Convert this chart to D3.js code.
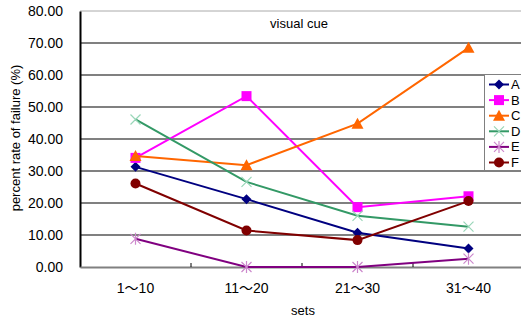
<!DOCTYPE html>
<html>
<head>
<meta charset="utf-8">
<script src="https://cdn.jsdelivr.net/npm/d3@7"></script>
<style>
  body { margin: 0; background: #fff; }
  svg text { font-family: "Liberation Sans", Arial, "Noto Sans CJK JP", sans-serif; fill: #000; }
</style>
</head>
<body>
<svg id="chart" width="521" height="320"></svg>
<script>
// categories and series
var sets = ["1～10", "11～20", "21～30", "31～40"];
var seriesNames = ["A", "B", "C", "D", "E", "F"];
var valuesA = [31.3, 21.2, 10.7, 5.8];
var valuesB = [34.1, 53.4, 18.7, 22.1];
var valuesC = [34.7, 31.8, 44.8, 68.5];
var valuesD = [46.1, 26.6, 16.0, 12.6];
var valuesE = [8.8, 0.0, 0.0, 2.6];
var valuesF = [26.1, 11.4, 8.4, 20.6];
var yTicks = [0, 10, 20, 30, 40, 50, 60, 70, 80];

var series = [
  { name: seriesNames[0], values: valuesA, line: "#000080", fill: "#000080", shape: "diamond" },
  { name: seriesNames[1], values: valuesB, line: "#ff00ff", fill: "#ff00ff", shape: "square" },
  { name: seriesNames[2], values: valuesC, line: "#ff6600", fill: "#ff6600", shape: "triangle" },
  { name: seriesNames[3], values: valuesD, line: "#339966", fill: "#99d6b8", shape: "cross" },
  { name: seriesNames[4], values: valuesE, line: "#800080", fill: "#cc88cc", shape: "star" },
  { name: seriesNames[5], values: valuesF, line: "#800000", fill: "#800000", shape: "circle" }
];

var svg = d3.select("#chart");
// plot edges (the plot runs a bit past the right border, as in the original)
var plotLeft = 80, plotRight = 524, plotTop = 11, plotBottom = 267;

var x = d3.scaleBand().domain(sets).range([plotLeft, plotRight]);
var y = d3.scaleLinear().domain([0, 80]).range([plotBottom, plotTop]);

// gridlines
svg.append("g").selectAll("line")
  .data(yTicks.filter(function(d) { return d > 0; }))
  .enter().append("line")
  .attr("x1", plotLeft).attr("x2", 521)
  .attr("y1", function(d) { return y(d); })
  .attr("y2", function(d) { return y(d); })
  .attr("stroke", function(d) { return d == 80 ? "#aaa" : "#808080"; })
  .attr("stroke-width", function(d) { return d == 80 ? 1 : 2; });

// y axis
var yAxis = svg.append("g")
  .attr("transform", "translate(" + plotLeft + ",0)")
  .call(d3.axisLeft(y).tickValues(yTicks).tickFormat(d3.format(".2f")).tickSize(0).tickPadding(17));
yAxis.select(".domain").attr("stroke", "#000").attr("stroke-width", 2);
yAxis.selectAll("text").style("font-size", "14px");

// x axis
var xAxis = svg.append("g")
  .attr("transform", "translate(0," + plotBottom + ")")
  .call(d3.axisBottom(x).tickSize(0).tickPadding(16));
xAxis.select(".domain").attr("stroke", "#808080").attr("stroke-width", 2);
xAxis.selectAll("text").style("font-size", "14px");

// small tick marks between categories
svg.append("g").selectAll("line")
  .data(sets.slice(1))
  .enter().append("line")
  .attr("x1", function(d) { return x(d); })
  .attr("x2", function(d) { return x(d); })
  .attr("y1", plotBottom - 4).attr("y2", plotBottom)
  .attr("stroke", "#000");

// titles
svg.append("text").attr("x", 299).attr("y", 28)
  .attr("text-anchor", "middle").style("font-size", "13px").text("visual cue");
svg.append("text").attr("x", 303).attr("y", 315)
  .attr("text-anchor", "middle").style("font-size", "13px").text("sets");
svg.append("text")
  .attr("transform", "translate(20,138) rotate(-90)")
  .attr("text-anchor", "middle").style("font-size", "13px")
  .text("percent rate of failure (%)");

function marker(g, s) {
  if (s.shape == "diamond") {
    g.append("path").attr("d", "M0,-5L5,0L0,5L-5,0Z").attr("fill", s.fill);
  } else if (s.shape == "square") {
    g.append("rect").attr("x", -5).attr("y", -5).attr("width", 10).attr("height", 10).attr("fill", s.fill);
  } else if (s.shape == "triangle") {
    g.append("path").attr("d", "M0,-6L6,5L-6,5Z").attr("fill", s.fill);
  } else if (s.shape == "circle") {
    g.append("circle").attr("r", 5).attr("fill", s.fill);
  } else if (s.shape == "cross") {
    g.append("path").attr("d", "M-5,-5L5,5M-5,5L5,-5").attr("stroke", s.fill).attr("stroke-width", 1.2);
  } else {
    g.append("path").attr("d", "M-5,-5L5,5M-5,5L5,-5M0,-6L0,6").attr("stroke", s.fill).attr("stroke-width", 1.2);
  }
}

var line = d3.line()
  .x(function(d, i) { return x(sets[i]) + x.bandwidth() / 2; })
  .y(function(d) { return y(d); });

series.forEach(function(s) {
  svg.append("path").datum(s.values)
    .attr("d", line).attr("fill", "none")
    .attr("stroke", s.line).attr("stroke-width", 2);
  s.values.forEach(function(v, i) {
    var g = svg.append("g")
      .attr("transform", "translate(" + (x(sets[i]) + x.bandwidth() / 2) + "," + y(v) + ")");
    marker(g, s);
  });
});

// legend
var legend = svg.append("g");
legend.append("rect").attr("x", 484.5).attr("y", 74.5).attr("width", 50).attr("height", 96)
  .attr("fill", "#fff").attr("stroke", "#808080");
series.forEach(function(s, i) {
  var ly = 84.5 + i * 15.6;
  legend.append("line").attr("x1", 489).attr("x2", 509).attr("y1", ly).attr("y2", ly)
    .attr("stroke", s.line).attr("stroke-width", 2);
  marker(legend.append("g").attr("transform", "translate(499," + ly + ")"), s);
  legend.append("text").attr("x", 511).attr("y", ly + 4.5).style("font-size", "13px").text(s.name);
});
</script>
</body>
</html>
